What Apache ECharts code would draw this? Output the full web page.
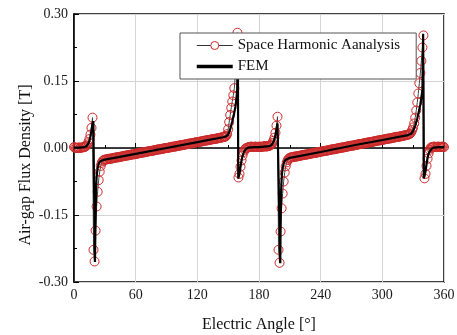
<!DOCTYPE html>
<html>
<head>
<meta charset="utf-8">
<script src="https://cdn.jsdelivr.net/npm/echarts@6/dist/echarts.min.js"></script>
<style>html,body{margin:0;padding:0;background:#fff}#c{width:457px;height:335px}</style>
</head>
<body>
<div id="c"></div>
<script>
// Space Harmonic Analysis samples, one per degree from 0 to 360
const shaStepDeg = 1;
const shaValues = [
  0.002, 0.001, 0.000, 0.000, 0.001, 0.001, 0.000, 0.001, 0.001, 0.002,
  0.002, 0.003, 0.005, 0.008, 0.013, 0.020, 0.030, 0.045, 0.068, -0.228,
  -0.254, -0.185, -0.131, -0.098, -0.072, -0.053, -0.040, -0.033, -0.029, -0.027,
  -0.026, -0.026, -0.025, -0.025, -0.024, -0.024, -0.024, -0.023, -0.023, -0.022,
  -0.022, -0.021, -0.021, -0.021, -0.020, -0.020, -0.019, -0.019, -0.018, -0.018,
  -0.017, -0.017, -0.017, -0.016, -0.016, -0.015, -0.015, -0.014, -0.014, -0.014,
  -0.013, -0.013, -0.012, -0.012, -0.011, -0.011, -0.010, -0.010, -0.010, -0.009,
  -0.009, -0.008, -0.008, -0.007, -0.007, -0.007, -0.006, -0.006, -0.005, -0.005,
  -0.004, -0.004, -0.003, -0.003, -0.003, -0.002, -0.002, -0.001, -0.001, 0.000,
  0.000, 0.000, 0.001, 0.001, 0.002, 0.002, 0.003, 0.003, 0.003, 0.004,
  0.004, 0.005, 0.005, 0.006, 0.006, 0.006, 0.007, 0.007, 0.008, 0.008,
  0.009, 0.009, 0.010, 0.010, 0.010, 0.011, 0.011, 0.012, 0.012, 0.013,
  0.013, 0.013, 0.014, 0.014, 0.015, 0.015, 0.016, 0.016, 0.017, 0.017,
  0.017, 0.018, 0.018, 0.019, 0.019, 0.020, 0.020, 0.020, 0.021, 0.021,
  0.022, 0.022, 0.023, 0.023, 0.024, 0.024, 0.025, 0.025, 0.027, 0.031,
  0.042, 0.058, 0.074, 0.090, 0.104, 0.118, 0.134, 0.165, 0.215, 0.258,
  -0.066, -0.058, -0.042, -0.028, -0.017, -0.009, -0.004, -0.001, 0.000, 0.001,
  0.002, 0.002, 0.003, 0.003, 0.002, 0.002, 0.003, 0.003, 0.002, 0.002,
  0.003, 0.003, 0.002, 0.003, 0.003, 0.004, 0.004, 0.003, 0.004, 0.004,
  0.005, 0.006, 0.008, 0.011, 0.016, 0.023, 0.034, 0.050, 0.070, -0.228,
  -0.257, -0.187, -0.135, -0.102, -0.075, -0.055, -0.041, -0.032, -0.027, -0.024,
  -0.022, -0.021, -0.021, -0.020, -0.020, -0.019, -0.019, -0.019, -0.018, -0.018,
  -0.017, -0.017, -0.016, -0.016, -0.015, -0.015, -0.015, -0.014, -0.014, -0.013,
  -0.013, -0.012, -0.012, -0.011, -0.011, -0.011, -0.010, -0.010, -0.009, -0.009,
  -0.008, -0.008, -0.007, -0.007, -0.007, -0.006, -0.006, -0.005, -0.005, -0.004,
  -0.004, -0.003, -0.003, -0.003, -0.002, -0.002, -0.001, -0.001, 0.000, 0.000,
  0.001, 0.001, 0.001, 0.002, 0.002, 0.003, 0.003, 0.004, 0.004, 0.005,
  0.005, 0.005, 0.006, 0.006, 0.007, 0.007, 0.008, 0.008, 0.009, 0.009,
  0.009, 0.010, 0.010, 0.011, 0.011, 0.012, 0.012, 0.013, 0.013, 0.013,
  0.014, 0.014, 0.015, 0.015, 0.016, 0.016, 0.017, 0.017, 0.017, 0.018,
  0.018, 0.019, 0.019, 0.020, 0.020, 0.021, 0.021, 0.021, 0.022, 0.022,
  0.023, 0.023, 0.024, 0.024, 0.025, 0.025, 0.025, 0.026, 0.026, 0.027,
  0.027, 0.028, 0.028, 0.029, 0.029, 0.030, 0.031, 0.032, 0.035, 0.040,
  0.046, 0.055, 0.068, 0.084, 0.102, 0.122, 0.145, 0.168, 0.195, 0.225,
  0.252, -0.068, -0.058, -0.040, -0.024, -0.012, -0.004, 0.000, 0.002, 0.002,
  0.003, 0.003, 0.002, 0.002, 0.003, 0.003, 0.002, 0.002, 0.003, 0.003,
  0.002
];

// FEM waveform (angle, value)
const femAngles = [
  0, 5, 10, 12, 13, 14, 15, 16, 17, 18, 18.8, 20.4, 21, 21.5, 22, 23, 24, 25, 27, 30,
  60, 90, 120, 145, 148, 150, 152, 154, 156, 157, 158, 158.8, 159.4, 159.8, 160.5,
  161, 162, 163, 164, 165, 166, 168, 170, 175, 180,
  185, 190, 192, 193, 194, 195, 196, 197, 198, 198.5, 200.7, 201.1, 201.6, 202.2,
  203, 204, 205, 207, 210, 240, 270, 300, 325, 328, 330, 332, 334, 336, 337, 338, 339,
  339.7, 340.3, 341, 342, 343, 344, 345, 346, 348, 350, 355, 360
];
const femValues = [
  0.001, 0.001, 0.002, 0.004, 0.006, 0.010, 0.016, 0.026, 0.040, 0.055, 0.060, -0.255, -0.150, -0.090, -0.064, -0.045, -0.036, -0.031, -0.028, -0.026,
  -0.013, 0.000, 0.013, 0.024, 0.026, 0.030, 0.042, 0.060, 0.080, 0.092, 0.110, 0.130, 0.257, -0.068, -0.066,
  -0.058, -0.042, -0.028, -0.018, -0.011, -0.006, -0.001, 0.001, 0.002, 0.002,
  0.003, 0.004, 0.006, 0.009, 0.013, 0.019, 0.029, 0.042, 0.055, 0.059, -0.258, -0.150, -0.092, -0.062,
  -0.045, -0.035, -0.029, -0.025, -0.022, -0.009, 0.005, 0.018, 0.029, 0.032, 0.038, 0.050, 0.066, 0.086, 0.098, 0.113, 0.130,
  0.256, -0.068, -0.066, -0.052, -0.036, -0.022, -0.013, -0.008, -0.002, 0.001, 0.002, 0.002
];

const xTicks = { min: 0, max: 360, interval: 60 };
const yTicks = { min: -0.30, max: 0.30, interval: 0.15 };
const seriesNames = ['Space Harmonic Aanalysis', 'FEM'];

const shaData = shaValues.map((v, i) => [i * shaStepDeg, v]);
const femData = femAngles.map((a, i) => [a, femValues[i]]);

const FONT = 'Liberation Serif';
const RED = '#cc2a2a';
const chart = echarts.init(document.getElementById('c'), null, { renderer: 'canvas' });
chart.setOption({
  backgroundColor: '#fff',
  animation: false,
  grid: {
    left: 74, right: 13, top: 14, bottom: 53, containLabel: false, outerBoundsMode: 'none',
    show: true, borderColor: '#000', borderWidth: 1.5, backgroundColor: 'transparent'
  },
  legend: {
    z: 20,
    orient: 'vertical', left: 180, top: 33,
    padding: [5, 16, 5, 15], itemWidth: 36, itemHeight: 10, itemGap: 6,
    backgroundColor: '#fff', borderColor: '#555', borderWidth: 1, borderRadius: 0,
    textStyle: { fontFamily: FONT, fontSize: 15, color: '#111' },
    data: [
      { name: seriesNames[0], itemStyle: { color: '#fff', borderColor: RED, borderWidth: 1 }, lineStyle: { color: '#333', width: 1 } },
      { name: seriesNames[1], itemStyle: { color: 'rgba(0,0,0,0)', borderColor: 'rgba(0,0,0,0)', borderWidth: 0, opacity: 0 }, lineStyle: { color: '#000', width: 3.5 } }
    ]
  },
  xAxis: {
    type: 'value', min: xTicks.min, max: xTicks.max, interval: xTicks.interval,
    name: 'Electric Angle [°]', nameLocation: 'middle', nameGap: 35, nameMoveOverlap: false,
    nameTextStyle: { fontFamily: FONT, fontSize: 16, color: '#111' },
    axisLine: { lineStyle: { color: '#000', width: 1.5 } },
    axisTick: { inside: true, length: 5, lineStyle: { color: '#000', width: 1 } },
    minorTick: { show: true, splitNumber: 2, length: 3, lineStyle: { color: '#000', width: 1 } },
    axisLabel: { fontFamily: FONT, fontSize: 14, color: '#1a1a1a', margin: 6 },
    splitLine: { show: true, lineStyle: { color: '#d4d4d4', width: 1 } }
  },
  yAxis: {
    type: 'value', min: yTicks.min, max: yTicks.max, interval: yTicks.interval,
    name: 'Air-gap Flux Density [T]', nameLocation: 'middle', nameGap: 40, nameMoveOverlap: false,
    nameTextStyle: { fontFamily: FONT, fontSize: 16, color: '#111', padding: [0, 34, 0, 0] },
    axisLine: { lineStyle: { color: '#000', width: 1.5 } },
    axisTick: { inside: true, length: 5, lineStyle: { color: '#000', width: 1 } },
    minorTick: { show: true, splitNumber: 2, length: 3, lineStyle: { color: '#000', width: 1 } },
    axisLabel: { fontFamily: FONT, fontSize: 14, color: '#1a1a1a', margin: 6, formatter: v => v.toFixed(2) },
    splitLine: { show: true, lineStyle: { color: '#d4d4d4', width: 1 } }
  },
  series: [
    {
      name: seriesNames[0], type: 'line', data: shaData,
      symbol: 'circle', symbolSize: 9, showSymbol: true,
      itemStyle: { color: 'rgba(255,255,255,0)', borderColor: RED, borderWidth: 1 },
      lineStyle: { color: '#444', width: 1 },
      z: 2
    },
    {
      name: seriesNames[1], type: 'line', data: femData,
      symbol: 'none', showSymbol: false,
      itemStyle: { color: '#000' },
      lineStyle: { color: '#000', width: 2.2 },
      z: 3
    }
  ]
});
</script>
</body>
</html>
